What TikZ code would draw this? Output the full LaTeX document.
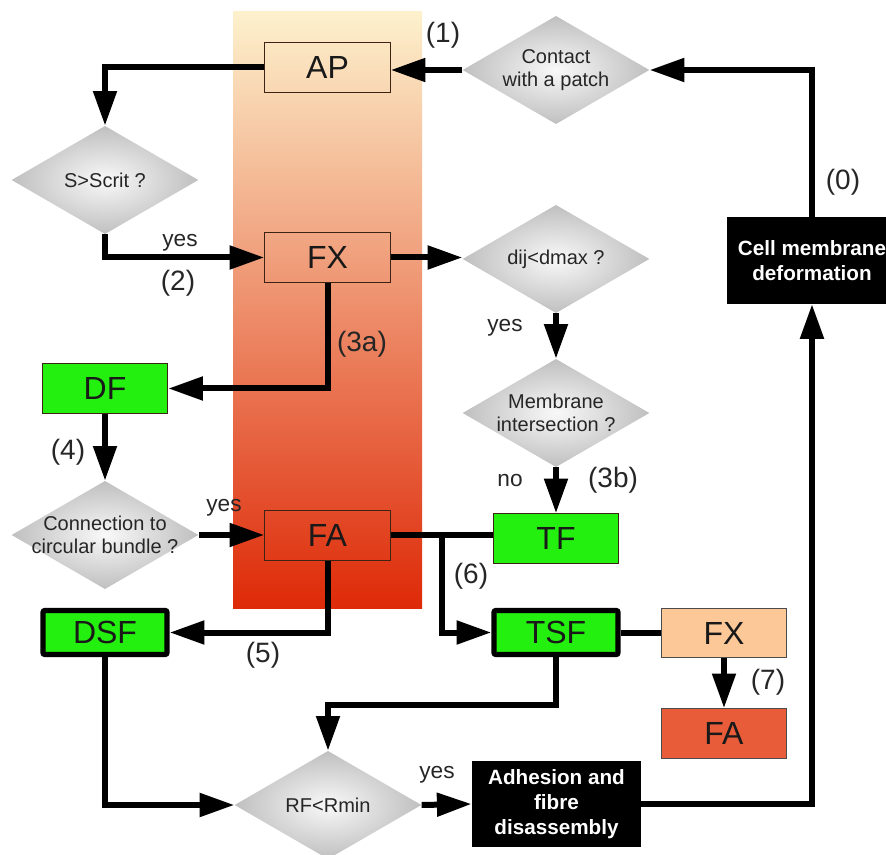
\documentclass[tikz,border=0pt]{standalone}
\usepackage{fontspec}
\setmainfont{Liberation Sans}
\usetikzlibrary{positioning, calc, arrows.meta}
\definecolor{bandtop}{RGB}{253,241,205}
\definecolor{bandbot}{RGB}{222,42,8}
\definecolor{fxlight}{RGB}{252,200,152}
\definecolor{fared}{RGB}{232,92,58}
\definecolor{fibre}{RGB}{36,240,16}
\definecolor{edge}{RGB}{60,35,20}
\tikzstyle{Arrow} = [line width=4.5pt, -{Triangle[length=26pt, width=17pt]}]
\tikzstyle{Line} = [line width=4.5pt]
\tikzstyle{Box} = [rectangle, draw=edge, line width=0.8pt, minimum width=94pt,
minimum height=37pt, inner sep=0pt, text=black!90, font=\fontsize{24}{26}\selectfont]
\tikzstyle{Fibre} = [Box, fill=fibre]
\tikzstyle{Stress} = [Box, fill=fibre, draw=black, line width=4pt, rounded corners=1.5pt,
minimum width=93pt, minimum height=33pt]
\tikzstyle{Black} = [rectangle, fill=black, text=white, align=center, inner sep=0pt,
font=\bfseries\fontsize{15.5}{19}\selectfont]
\tikzstyle{Test} = [rectangle, inner sep=0pt, minimum width=140pt, minimum height=81pt,
align=center, text=black!85, font=\fontsize{15}{17}\selectfont,
path picture={\shade[inner color=gray!5, outer color=gray!50]
(path picture bounding box.north) -- (path picture bounding box.east) --
(path picture bounding box.south) -- (path picture bounding box.west) -- cycle;}]
\tikzstyle{Step} = [text=black!85, font=\fontsize{21}{23}\selectfont]
\tikzstyle{Answer} = [text=black!85, font=\fontsize{17}{19}\selectfont]

\begin{document}
\begin{tikzpicture}[x=0.75pt, y=-0.75pt]
    \useasboundingbox (0,0) rectangle (886,855);
    \shade [top color=bandtop, bottom color=bandbot] (233,12) rectangle (422,608);
    \node [Box] (1) at (327.5,67.5) {AP};
    \node [Box] (2) at (327.5,257.5) {FX};
    \node [Box] (3) at (327.5,535.5) {FA};
    \node [Fibre] (4) at (105,388.5) {DF};
    \node [Stress] (6) at (105,632.5) {DSF};
    \node [Stress] (7) at (556,632.5) {TSF};
    \node [Box, fill=fxlight, draw=black!70] (8) at (724,633) {FX};
    \node [below =37.5pt of 8, Box, fill=fared, draw=black!70] (9) {FA};
    \node [Black, minimum width=127.5pt, minimum height=65pt] (10) at (812,260.5)
        {Cell membrane\\deformation};
    \node [Black, minimum width=127pt, minimum height=64.5pt] (11) at (556.5,804)
        {Adhesion and\\fibre\\disassembly};
    \node [Test] (12) at (556,70) {Contact\\with a patch};
    \node [Test] (13) at (105,180) {S>Scrit ?};
    \node [Test] (14) at (556,259) {dij<dmax ?};
    \node [Test] (15) at (556,413) {Membrane\\intersection ?};
    \node [below =34.5pt of 15, Fibre] (5) {TF};
    \node [Test] (16) at (105,535) {Connection to\\circular bundle ?};
    \node [Test] (17) at (328,805) {RF<Rmin};
    \coordinate (j6) at (442,535.5);
    \coordinate (j7) at (556,705);
    \draw [Arrow] (10.north) |- (12.east); \draw [Arrow] (12.west) -- (12.west -| 1.east);
    \draw [Arrow] (1.west) -| (13.north); \draw [Arrow] (13.south) |- (2.west);
    \draw [Arrow] (2.east) -- (2.east -| 14.west); \draw [Arrow] (2.south) |- (4.east);
    \draw [Arrow] (4.south) -- (16.north); \draw [Arrow] (16.east) -- (16.east -| 3.west);
    \draw [Arrow] (14.south) -- (15.north); \draw [Arrow] (15.south) -- (5.north);
    \draw [Line] (3.east) -- (3.east -| 5.west); \draw [Arrow] (j6) |- (7.west);
    \draw [Arrow] (3.south) |- (6.east); \draw [Line] (7.east) -- (7.east -| 8.west);
    \draw [Arrow] (8.south) -- (9.north); \draw [Arrow] (7.south) -- (j7) -| (17.north);
    \draw [Arrow] (6.south) |- (17.west); \draw [Arrow] (17.east) -- (11.west);
    \draw [Arrow] (11.east) -| (10.south);
    \node [Step] (s0) at (843,182) {(0)};
    \node [Step] (s1) at (443,35) {(1)};
    \node [Step] (s2) at (178,283) {(2)};
    \node [Step] (s3a) at (362,344) {(3a)};
    \node [Step] (s3b) at (613,480) {(3b)};
    \node [Step] (s4) at (68,452) {(4)};
    \node [Step] (s5) at (263,655) {(5)};
    \node [Step] (s6) at (471,576) {(6)};
    \node [Step] (s7) at (768,682) {(7)};
    \node [Answer] (y1) at (180,243) {yes};
    \node [Answer] (y2) at (224,508) {yes};
    \node [Answer] (y3) at (505,328) {yes};
    \node [Answer] (n1) at (510,481) {no};
    \node [Answer] (y4) at (437,775) {yes};
\end{tikzpicture}
\end{document}
